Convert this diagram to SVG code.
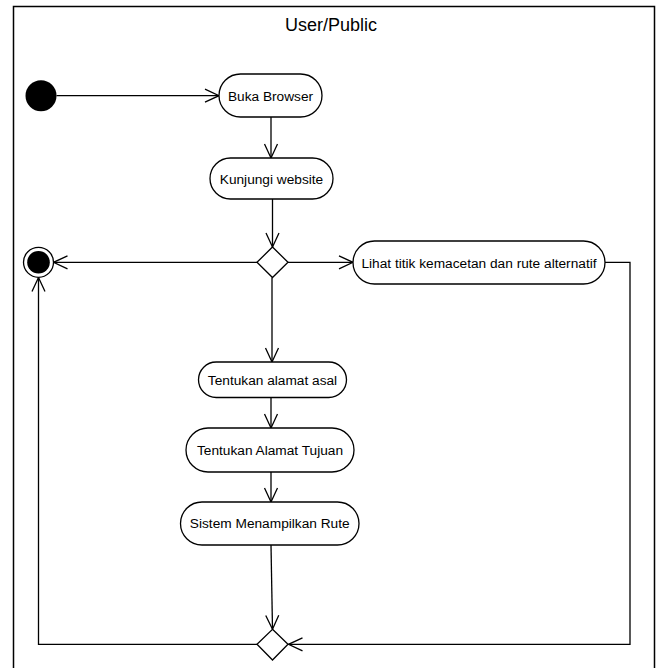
<svg xmlns="http://www.w3.org/2000/svg" width="661" height="668" viewBox="0 0 661 668">
<defs>
<marker id="open" markerUnits="userSpaceOnUse" markerWidth="20" markerHeight="20" viewBox="-16 -10 20 20" refX="0" refY="0" orient="auto">
<path d="M-14,-6.5 L0,0 L-14,6.5" fill="none" stroke="#000" stroke-width="1.3"/>
</marker>
<style>
.node rect{fill:#fff;stroke:#000;stroke-width:1.3}
.node text,.title{font-family:"Liberation Sans",Arial,Helvetica,sans-serif;fill:#000;text-anchor:middle}
.node text{font-size:13.7px}
.title{font-size:18px}
.edge{fill:none;stroke:#000;stroke-width:1.3}
.dec{fill:#fff;stroke:#000;stroke-width:1.3}
</style>
</defs>
<rect width="661" height="668" fill="#fff"/>
<g id="frame">
<path d="M13.5,670 L13.5,6.5 L654.5,6.5 L654.5,670" fill="none" stroke="#000" stroke-width="1.5"/>
<text class="title" x="331" y="31">User/Public</text>
</g>
<g id="connectors">
<path class="edge" d="M56.5,95.7 L219,95.7" marker-end="url(#open)"/>
<path class="edge" d="M271,117 L271,158" marker-end="url(#open)"/>
<path class="edge" d="M272.5,199 L272.5,247" marker-end="url(#open)"/>
<path class="edge" d="M257,262.3 L53.5,262.3" marker-end="url(#open)"/>
<path class="edge" d="M288,262.3 L353,262.3" marker-end="url(#open)"/>
<path class="edge" d="M605,262.3 L630,262.3 L630,644.3 L288.5,644.3" marker-end="url(#open)"/>
<path class="edge" d="M272,277.5 L272,362" marker-end="url(#open)"/>
<path class="edge" d="M271,397.5 L271,428" marker-end="url(#open)"/>
<path class="edge" d="M271,472 L271,502" marker-end="url(#open)"/>
<path class="edge" d="M271,545 L272.5,629.3" marker-end="url(#open)"/>
<path class="edge" d="M257,644.3 L38.5,644.3 L38.5,277.5" marker-end="url(#open)"/>
</g>
<g id="start"><circle cx="41" cy="95.7" r="15.5" fill="#000"/></g>
<g id="end"><circle cx="38.5" cy="262.3" r="15" fill="#fff" stroke="#000" stroke-width="1.3"/><circle cx="38.5" cy="262.3" r="11.3" fill="#000"/></g>
<g id="decision1"><path class="dec" d="M272.5,247 L288,262.3 L272.5,277.5 L257,262.3 Z"/></g>
<g id="decision2"><path class="dec" d="M272.5,629.3 L288,644.3 L272.5,660 L257,644.3 Z"/></g>
<g id="buka" class="node"><rect x="219" y="74" width="103" height="43" rx="21.5"/><text x="270.5" y="100.5">Buka Browser</text></g>
<g id="kunjungi" class="node"><rect x="210" y="158" width="123" height="41" rx="20.5"/><text x="271.5" y="183.5">Kunjungi website</text></g>
<g id="lihat" class="node"><rect x="353" y="241" width="252" height="43" rx="21.5"/><text x="479" y="267.5">Lihat titik kemacetan dan rute alternatif</text></g>
<g id="asal" class="node"><rect x="198.5" y="362" width="148" height="35.5" rx="17.75"/><text x="272.5" y="384.5">Tentukan alamat asal</text></g>
<g id="tujuan" class="node"><rect x="186" y="428" width="168" height="44" rx="22"/><text x="270" y="454.5">Tentukan Alamat Tujuan</text></g>
<g id="sistem" class="node"><rect x="180.5" y="502" width="178.5" height="43" rx="21.5"/><text x="269.75" y="528">Sistem Menampilkan Rute</text></g>
</svg>
